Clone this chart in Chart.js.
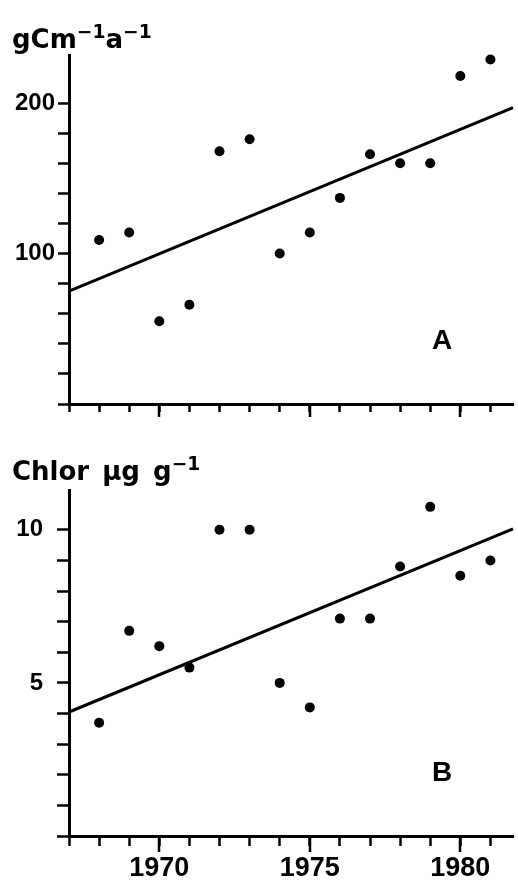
<!DOCTYPE html>
<html><head><meta charset="utf-8">
<script src="https://cdn.jsdelivr.net/npm/chart.js@4.4.1/dist/chart.umd.min.js"></script>
<style>
html,body{margin:0;padding:0;background:#fff;}
#wrap{position:relative;width:518px;height:885px;overflow:hidden;background:#fff;}
canvas{position:absolute;left:0;}
.lbl{position:absolute;font-family:"DejaVu Sans",sans-serif;font-weight:bold;color:#000;white-space:nowrap;line-height:30px;}
.sup{position:relative;font-size:0.72em;top:-0.55em;}
.pl{position:absolute;font-family:"Liberation Sans",Arial,sans-serif;font-weight:bold;font-size:28px;line-height:30px;color:#000;}
</style></head>
<body>
<div id="wrap">
  <canvas id="cA" width="518" height="430" style="top:0"></canvas>
  <canvas id="cB" width="518" height="445" style="top:440px"></canvas>
  <div class="lbl" style="left:12px;top:24px;font-size:26px;">gCm<span class="sup">&minus;1</span>a<span class="sup">&minus;1</span></div>
  <div class="lbl" style="left:12px;top:456px;font-size:26px;word-spacing:4px;">Chlor &mu;g g<span class="sup">&minus;1</span></div>
  <div class="pl" style="left:432px;top:325px;">A</div>
  <div class="pl" style="left:432px;top:757px;">B</div>
</div>
<script>
// ---- data ----
const years = [1968,1969,1970,1971,1972,1973,1974,1975,1976,1977,1978,1979,1980,1981];
const productionA = [109,114,55,66,168,176,100,114,137,166,160,160,218,229];
const chlorB = [3.7,6.7,6.2,5.5,10.0,10.0,5.0,4.2,7.1,7.1,8.8,10.75,8.5,9.0];
const trendYears = [1967,1981.75];
const trendA = [75,197];
const trendB = [4.05,10.03];
const xTickYears = [1967,1968,1969,1970,1971,1972,1973,1974,1975,1976,1977,1978,1979,1980,1981];
const xLabelYears = [1970,1975,1980];
const yTicksA = [0,20,40,60,80,100,120,140,160,180,200];
const yLabelsA = [100,200];
const yTicksB = [0,1,2,3,4,5,6,7,8,9,10];
const yLabelsB = [5,10];

const majorTicks = {
  id:'majorTicks',
  afterDraw(chart, args, opts){
    const xs = chart.scales.x, ctx = chart.ctx;
    ctx.save(); ctx.strokeStyle='#000'; ctx.lineWidth=2.5;
    xLabelYears.forEach(v=>{
      const px = Math.round(xs.getPixelForValue(v));
      ctx.beginPath(); ctx.moveTo(px, xs.top); ctx.lineTo(px, xs.top + opts.len); ctx.stroke();
    });
    ctx.restore();
  }
};

function makeChart(id, vals, trend, cfg){
  const pts = years.map((y,i)=>({x:y, y:vals[i]}));
  const line = trendYears.map((y,i)=>({x:y, y:trend[i]}));
  return new Chart(document.getElementById(id), {
    type:'scatter',
    data:{datasets:[
      {type:'line', data:line, borderColor:'#000', borderWidth:3, pointRadius:0, fill:false, clip:false},
      {data:pts, backgroundColor:'#000', borderWidth:0, pointRadius:5, pointHoverRadius:5, clip:false}
    ]},
    options:{
      responsive:false, animation:false, devicePixelRatio:1,
      layout:{padding:{top:cfg.padTop,right:1,left:0,bottom:0}},
      plugins:{legend:{display:false}, tooltip:{enabled:false}, majorTicks:{len:cfg.majorLen}},
      scales:{
        x:{type:'linear', min:1967, max:1981.75,
          afterBuildTicks:(ax)=>{ax.ticks = xTickYears.map(v=>({value:v}));},
          afterFit:(ax)=>{ax.height = cfg.xHeight;},
          border:{display:true,color:'#000',width:3},
          grid:{drawOnChartArea:false,drawTicks:true,tickLength:cfg.minorLen,tickWidth:2.5,tickColor:'#000'},
          ticks:{autoSkip:false,maxRotation:0,padding:cfg.xPad,color:'#000',
            font:{family:'"Liberation Sans", Arial, sans-serif',weight:'bold',size:27},
            callback:(v)=> cfg.xLabels && xLabelYears.includes(v) ? String(v) : ''}
        },
        y:{type:'linear', min:0, max:cfg.yMax,
          afterBuildTicks:(ax)=>{ax.ticks = cfg.yTicks.map(v=>({value:v}));},
          afterFit:(ax)=>{ax.width = 69;},
          border:{display:true,color:'#000',width:3},
          grid:{drawOnChartArea:false,drawTicks:true,tickLength:cfg.yLen,tickWidth:2.5,tickColor:'#000'},
          ticks:{autoSkip:false,padding:cfg.yPad,color:'#000',
            font:{family:'"Liberation Sans", Arial, sans-serif',weight:'bold',size:24},
            callback:(v)=> cfg.yLabels.includes(v) ? String(v) : ''}
        }
      }
    },
    plugins:[majorTicks]
  });
}

makeChart('cA', productionA, trendA, {padTop:55, xHeight:26, minorLen:8, majorLen:13, xPad:4, xLabels:false,
  yMax:232, yTicks:yTicksA, yLabels:yLabelsA, yLen:11, yPad:3});
makeChart('cB', chlorB, trendB, {padTop:50, xHeight:49, minorLen:10, majorLen:16, xPad:6, xLabels:true,
  yMax:11.3, yTicks:yTicksB, yLabels:yLabelsB, yLen:12, yPad:14});
</script>
</body></html>
